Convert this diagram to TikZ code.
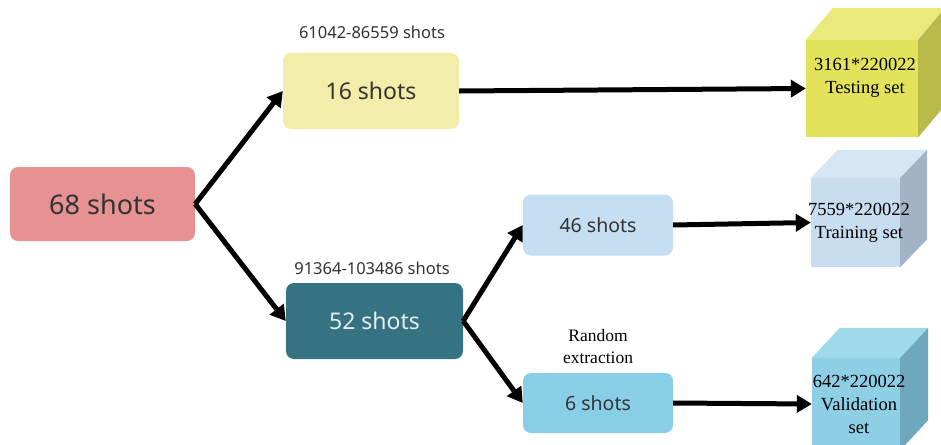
\documentclass[tikz,border=0pt]{standalone}
\usepackage{fontspec}
\setmainfont{Liberation Serif}
\newfontfamily\boxfont{Noto Sans}
\usetikzlibrary{arrows.meta}
\definecolor{c68}{HTML}{E69192}
\definecolor{c16}{HTML}{F2EDA9}
\definecolor{c52}{HTML}{367382}
\definecolor{c46}{HTML}{C6DEF1}
\definecolor{c6}{HTML}{88CEE7}
\definecolor{txt}{HTML}{333333}
\definecolor{tfront}{HTML}{E3E35B}
\definecolor{ttop}{HTML}{EAEA7C}
\definecolor{tside}{HTML}{BABA4B}
\definecolor{rfront}{HTML}{C9DDF0}
\definecolor{rtop}{HTML}{D6E6F4}
\definecolor{rside}{HTML}{A1B3C4}
\definecolor{vfront}{HTML}{8ECFE6}
\definecolor{vtop}{HTML}{A0D8EC}
\definecolor{vside}{HTML}{6FA8BC}
\tikzset{
  shotbox/.style={rounded corners=8pt, inner sep=0pt, font=\boxfont, text=txt},
  toplabel/.style={font=\boxfont\fontsize{16.5}{19}\selectfont, text=txt, inner sep=0pt},
  cubeface/.style={inner sep=0pt, draw=none},
  cubetext/.style={font=\fontsize{18.5}{23}\selectfont, align=center, inner sep=0pt},
  arr/.style={line width=5pt, -{Triangle[length=15pt,width=17pt]}},
}
\begin{document}
\begin{tikzpicture}[x=1pt,y=-1pt]
\useasboundingbox (0,0) rectangle (941,444);
% shot boxes
\node[shotbox, fill=c68, minimum width=185pt, minimum height=74pt,
      font=\boxfont\fontsize{27}{30}\selectfont] (s68) at (102.5,204) {68 shots};
\node[shotbox, fill=c16, minimum width=176pt, minimum height=76pt,
      font=\boxfont\fontsize{23}{26}\selectfont] (s16) at (371,91) {16 shots};
\node[shotbox, fill=c52, minimum width=177pt, minimum height=76pt, text=white!88!c52,
      font=\boxfont\fontsize{23}{26}\selectfont] (s52) at (374.5,321) {52 shots};
\node[shotbox, fill=c46, minimum width=150pt, minimum height=61pt,
      font=\boxfont\fontsize{19.5}{22}\selectfont] (s46) at (598,225) {46 shots};
\node[shotbox, fill=c6, minimum width=150pt, minimum height=60pt,
      font=\boxfont\fontsize{19.5}{22}\selectfont] (s6) at (598,403) {6 shots};
% labels
\node[toplabel] (l16) at (372,32) {61042-86559 shots};
\node[toplabel] (l52) at (372,268) {91364-103486 shots};
\node[font=\fontsize{17.5}{22}\selectfont, align=center, inner sep=0pt] (lre) at (598,347) {Random\\extraction};
% cubes: testing
\node[cubeface, fill=tfront, minimum width=112pt, minimum height=97pt] (test) at (862,88.5) {};
\fill[ttop] (test.north west) -- ([shift={(27pt,32pt)}]test.north west) -- ([shift={(27pt,32pt)}]test.north east) -- (test.north east) -- cycle;
\fill[tside] (test.north east) -- ([shift={(27pt,32pt)}]test.north east) -- ([shift={(27pt,32pt)}]test.south east) -- (test.south east) -- cycle;
\node[cubetext] (ttext) at (865,78) {3161*220022\\Testing set};
% training
\node[cubeface, fill=rfront, minimum width=89pt, minimum height=89pt] (train) at (855.5,222.5) {};
\fill[rtop] (train.north west) -- ([shift={(27pt,28pt)}]train.north west) -- ([shift={(27pt,28pt)}]train.north east) -- (train.north east) -- cycle;
\fill[rside] (train.north east) -- ([shift={(27pt,28pt)}]train.north east) -- ([shift={(27pt,28pt)}]train.south east) -- (train.south east) -- cycle;
\node[cubetext] (rtext) at (859,223) {7559*220022\\Training set};
% validation
\node[cubeface, fill=vfront, minimum width=88pt, minimum height=92pt] (valid) at (856,404) {};
\fill[vtop] (valid.north west) -- ([shift={(28pt,30pt)}]valid.north west) -- ([shift={(28pt,30pt)}]valid.north east) -- (valid.north east) -- cycle;
\fill[vside] (valid.north east) -- ([shift={(28pt,30pt)}]valid.north east) -- ([shift={(28pt,30pt)}]valid.south east) -- (valid.south east) -- cycle;
\node[cubetext] (vtext) at (859,404) {642*220022\\Validation\\set};
% arrows
\draw[arr] (s68.east) -- (s16.west);
\draw[arr] (s68.east) -- (s52.west);
\draw[arr] (s52.east) -- (s46.west);
\draw[arr] (s52.east) -- (s6.west);
\draw[arr] (s16.east) -- (test.west);
\draw[arr] (s46.east) -- (train.west);
\draw[arr] (s6.east) -- (valid.west);
\end{tikzpicture}
\end{document}
